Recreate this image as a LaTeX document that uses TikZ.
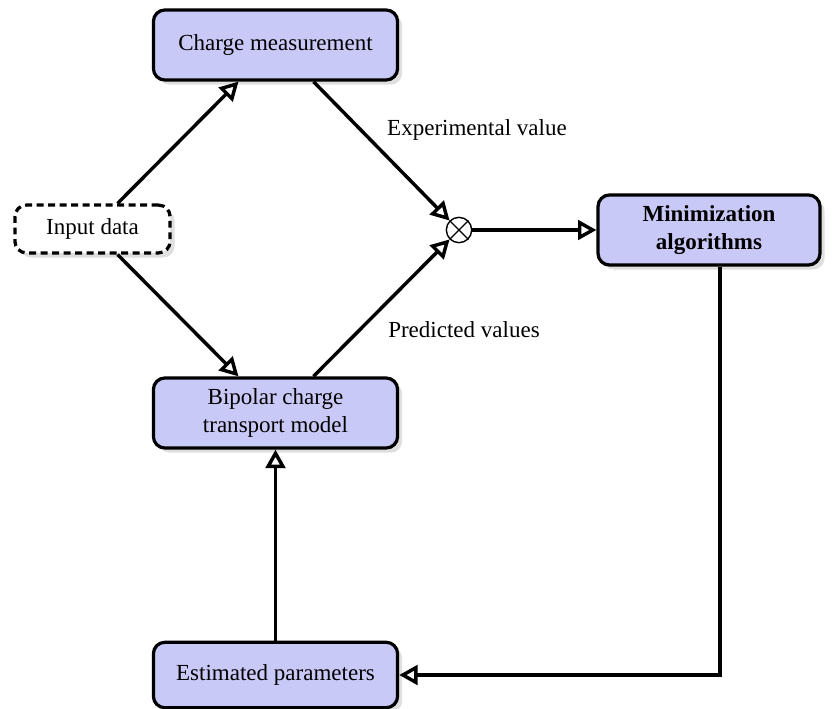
\documentclass[tikz,border=0pt]{standalone}
\usepackage{fontspec}
\setmainfont{Liberation Serif}
\usetikzlibrary{arrows.meta,calc,shadows}

\tikzset{
    block/.style={draw=black, fill=fillColourBox, line width=1.4pt, rounded corners=5pt,
        minimum width=3.73cm, minimum height=1.07cm, align=center,
        drop shadow={opacity=0.25, shadow xshift=2pt, shadow yshift=-2pt}},
    dataBox/.style={draw=black, fill=white, line width=1.4pt, dash pattern=on 3pt off 2pt,
        rounded corners=5pt, minimum width=2.37cm, minimum height=0.73cm,
        drop shadow={opacity=0.25, shadow xshift=2pt, shadow yshift=-2pt}},
    flow/.style={line width=1.5pt, -{Triangle[open, length=8pt, width=8.5pt]}},
    flowLabel/.style={font=\normalsize}
}

\begin{document}
\begin{tikzpicture}[x=0.01528cm, y=-0.01528cm]
    \definecolor{fillColourBox}{HTML}{C9C9F7}

    % Page size
    \useasboundingbox (0,0) rectangle (833,709);

    % Blocks
    \node[block] (meas) at (275.5,45) {Charge measurement};
    \node[dataBox] (input) at (92.5,229) {Input data};
    \node[block] (model) at (275.5,413) {Bipolar charge\\transport model};
    \node[block, minimum height=1.0cm] (param) at (275.5,675) {Estimated parameters};
    \node[block, minimum width=3.39cm, font=\bfseries] (minim) at (709,230) {Minimization\\algorithms};

    % Comparison
    \node[draw, circle, line width=0.6pt, minimum size=11pt, inner sep=0pt] (sum) at (459,230) {};
    \draw[line width=0.6pt] (sum.45) -- (sum.225);
    \draw[line width=0.6pt] (sum.135) -- (sum.315);

    % Connections
    \draw[flow] ($(input.north)+(25,0)$) -- ($(meas.south)+(-37,0)$);
    \draw[flow] ($(input.south)+(25,0)$) -- ($(model.north)+(-37,0)$);
    \draw[flow] ($(meas.south)+(38,0)$) -- (sum.135);
    \draw[flow] ($(model.north)+(38,0)$) -- (sum.225);
    \draw[flow] (sum.east) -- (minim.west);
    \draw[flow] ($(minim.south)+(11,0)$) |- (param.east);
    \draw[flow] (param.north) -- (model.south);

    % Labels
    \node[flowLabel] (expLabel) at (477,130) {Experimental value};
    \node[flowLabel] (predLabel) at (464,330) {Predicted values};

\end{tikzpicture}
\end{document}
